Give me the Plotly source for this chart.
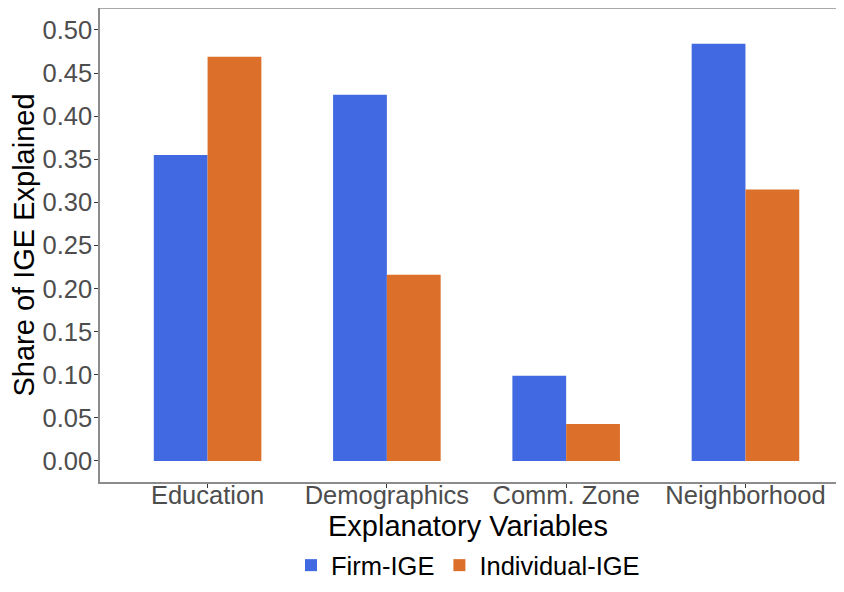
import plotly.graph_objects as go

categories = ["Education", "Demographics", "Comm. Zone", "Neighborhood"]
firm_ige = [0.355, 0.425, 0.099, 0.484]
individual_ige = [0.469, 0.216, 0.043, 0.315]
y_ticks = [0.00, 0.05, 0.10, 0.15, 0.20, 0.25, 0.30, 0.35, 0.40, 0.45, 0.50]

FONT = "Liberation Sans, Arial, sans-serif"

fig = go.Figure()
fig.add_trace(go.Bar(x=categories, y=firm_ige, name="Firm-IGE",
                     marker=dict(color="#4169E1", line=dict(width=0))))
fig.add_trace(go.Bar(x=categories, y=individual_ige, name="Individual-IGE",
                     marker=dict(color="#DC6F2A", line=dict(width=0))))

# page body has an 8px margin on every side, keep the figure inside the window
fig.update_layout(
    width=828, height=576,
    margin=dict(l=92, r=0, t=0, b=102, autoexpand=False),
    barmode="group", bargap=0.4, bargroupgap=0,
    plot_bgcolor="white", paper_bgcolor="white",
    font=dict(family=FONT, color="black"),
    legend=dict(orientation="h", x=0.5, xanchor="center", xref="paper",
                y=0.032, yanchor="middle", yref="container",
                font=dict(size=25.5, color="black"), traceorder="normal",
                itemwidth=30),
    showlegend=True,
)
fig.update_xaxes(
    range=[-0.6, 3.505], showline=True, linecolor="#8c8c8c", linewidth=1.5,
    ticks="outside", ticklen=4, tickcolor="#333333", automargin=False,
    ticklabelstandoff=-14,
    tickfont=dict(size=25.5, color="#4d4d4d"), showgrid=False,
    title=dict(text="Explanatory Variables", font=dict(size=29, color="black"), standoff=7),
)
fig.update_yaxes(
    range=[-0.0244, 0.5255], tickvals=y_ticks, tickformat=".2f",
    showline=True, linecolor="#8c8c8c", linewidth=1.5,
    ticks="outside", ticklen=4, tickcolor="#333333", automargin=False,
    ticklabelstandoff=-3,
    tickfont=dict(size=25.5, color="#4d4d4d"), showgrid=False, zeroline=False,
    title=dict(text="Share of IGE Explained", font=dict(size=29, color="black"), standoff=2),
)
fig.add_shape(type="line", xref="paper", yref="paper", x0=0, x1=1, y0=1, y1=1,
              line=dict(color="#8c8c8c", width=1.5))

fig.write_html("out.html")
